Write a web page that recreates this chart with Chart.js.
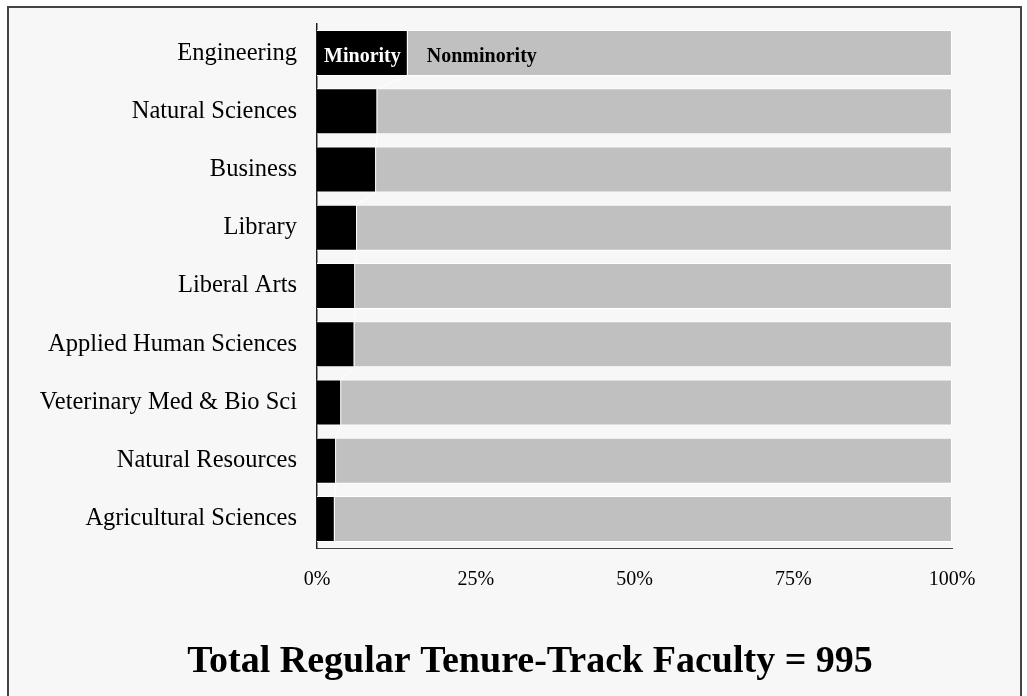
<!DOCTYPE html>
<html>
<head>
<meta charset="utf-8">
<script src="https://cdn.jsdelivr.net/npm/chart.js@4"></script>
<style>
  body { margin: 0; background: #fff; }
  canvas { display: block; }
</style>
</head>
<body>
<canvas id="canvas1" width="1027" height="696"></canvas>
<script>
const colleges = ['Engineering', 'Natural Sciences', 'Business', 'Library', 'Liberal Arts',
  'Applied Human Sciences', 'Veterinary Med & Bio Sci', 'Natural Resources', 'Agricultural Sciences'];
const minority = [14.3, 9.5, 9.3, 6.3, 6.0, 5.9, 3.8, 3.0, 2.8];
const nonminority = [85.7, 90.5, 90.7, 93.7, 94.0, 94.1, 96.2, 97.0, 97.2];
const xTicks = [0, 25, 50, 75, 100];
const titleText = 'Total Regular Tenure-Track Faculty = 995';

const serif = '"Liberation Serif", "Times New Roman", serif';

// frame + background
const framePlugin = {
  id: 'frame',
  beforeDraw(chart) {
    const ctx = chart.ctx;
    ctx.save();
    ctx.fillStyle = '#fff';
    ctx.fillRect(0, 0, chart.width, chart.height);
    ctx.fillStyle = '#f7f7f7';
    ctx.fillRect(8, 7, 1013, 700);
    ctx.strokeStyle = '#444';
    ctx.lineWidth = 2;
    ctx.strokeRect(8, 7, 1013, 700);
    ctx.restore();
  }
};

// white series lines + in-bar labels + bottom title
const extrasPlugin = {
  id: 'extras',
  afterDatasetsDraw(chart) {
    const ctx = chart.ctx;
    const m0 = chart.getDatasetMeta(0).data;
    const m1 = chart.getDatasetMeta(1).data;
    ctx.save();
    ctx.strokeStyle = '#fff';
    ctx.lineWidth = 1;
    for (let i = 0; i < m0.length - 1; i++) {
      const a = m0[i], b = m0[i + 1];
      ctx.beginPath();
      ctx.moveTo(a.x, a.y + a.height / 2);
      ctx.lineTo(b.x, b.y - b.height / 2);
      ctx.stroke();
    }
    ctx.font = 'bold 20px ' + serif;
    ctx.textBaseline = 'alphabetic';
    const e0 = m0[0], e1 = m1[0];
    ctx.fillStyle = '#fff';
    ctx.textAlign = 'center';
    ctx.fillText('Minority', (e0.base + e0.x) / 2, e0.y + 9);
    ctx.fillStyle = '#000';
    ctx.textAlign = 'left';
    ctx.fillText('Nonminority', e1.base + 19, e1.y + 9);

    ctx.font = 'bold 38px ' + serif;
    ctx.textAlign = 'center';
    ctx.fillText(titleText, 530, 672);
    ctx.restore();
  }
};

new Chart(document.getElementById('canvas1'), {
  type: 'bar',
  data: {
    labels: colleges,
    datasets: [
      { label: 'Minority', data: minority, backgroundColor: '#000', borderColor: '#fff', borderWidth: 1 },
      { label: 'Nonminority', data: nonminority, backgroundColor: '#c0c0c0', borderColor: '#fff', borderWidth: 1 }
    ]
  },
  options: {
    indexAxis: 'y',
    responsive: false,
    animation: false,
    devicePixelRatio: 1,
    layout: { padding: { top: 24, right: 75, left: 0, bottom: 0 } },
    datasets: { bar: { categoryPercentage: 1, barPercentage: 0.79 } },
    plugins: { legend: { display: false }, tooltip: { enabled: false } },
    scales: {
      x: {
        stacked: true,
        min: 0, max: 100,
        afterBuildTicks: s => { s.ticks = xTicks.map(v => ({ value: v })); },
        afterFit: s => { s.height = 148; },
        grid: { display: false },
        border: { display: true, color: '#444', width: 1 },
        ticks: {
          padding: 12,
          color: '#000',
          font: { family: serif, size: 20 },
          callback: v => v + '%'
        }
      },
      y: {
        stacked: true,
        afterFit: s => { s.width = 317; s.paddingTop = 0; s.paddingBottom = 0; },
        grid: { display: false },
        border: { display: true, color: '#222', width: 1.5 },
        ticks: {
          padding: 12,
          color: '#000',
          font: { family: serif, size: 24.5 }
        }
      }
    }
  },
  plugins: [framePlugin, extrasPlugin]
});
</script>
</body>
</html>
